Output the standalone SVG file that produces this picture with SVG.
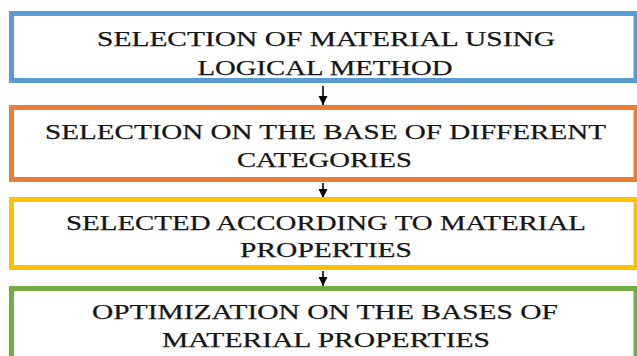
<svg xmlns="http://www.w3.org/2000/svg" width="637" height="356" viewBox="0 0 637 356">
  <style>
    .box { fill: #ffffff; stroke-width: 5; }
    .lbl { font-family: "Liberation Serif", "DejaVu Serif", serif; font-size: 22px; fill: #141414; stroke: #141414; stroke-width: 0.25; text-anchor: middle; }
    .link { stroke: #000000; stroke-width: 1.6; fill: none; }
  </style>
  <defs>
    <marker id="head" viewBox="0 0 10 10" refX="10" refY="5" markerWidth="9" markerHeight="12" markerUnits="userSpaceOnUse" orient="auto">
      <path d="M0,0 L10,5 L0,10 Z" fill="#000000"/>
    </marker>
  </defs>
  <rect width="637" height="356" fill="#ffffff"/>

  <g id="connectors">
    <line class="link" x1="323" y1="86" x2="323" y2="105" marker-end="url(#head)"/>
    <line class="link" x1="323" y1="183" x2="323" y2="198" marker-end="url(#head)"/>
    <line class="link" x1="323" y1="271" x2="323" y2="286" marker-end="url(#head)"/>
  </g>

  <g id="step-logical">
    <rect class="box" x="11.5" y="13.5" width="624.5" height="67" stroke="#5B9BD5"/>
    <text class="lbl" x="326" y="46" textLength="458" lengthAdjust="spacingAndGlyphs">SELECTION OF MATERIAL USING</text>
    <text class="lbl" x="325" y="75" textLength="255" lengthAdjust="spacingAndGlyphs">LOGICAL METHOD</text>
  </g>

  <g id="step-categories">
    <rect class="box" x="11.5" y="107.5" width="624.5" height="72" stroke="#ED7D31"/>
    <text class="lbl" x="325.5" y="139" textLength="561" lengthAdjust="spacingAndGlyphs">SELECTION ON THE BASE OF DIFFERENT</text>
    <text class="lbl" x="324.5" y="167" textLength="175" lengthAdjust="spacingAndGlyphs">CATEGORIES</text>
  </g>

  <g id="step-properties">
    <rect class="box" x="11.5" y="199.5" width="624.5" height="68" stroke="#FFC000"/>
    <text class="lbl" x="326" y="230" textLength="520" lengthAdjust="spacingAndGlyphs">SELECTED ACCORDING TO MATERIAL</text>
    <text class="lbl" x="326" y="257" textLength="172" lengthAdjust="spacingAndGlyphs">PROPERTIES</text>
  </g>

  <g id="step-optimization">
    <rect class="box" x="11.5" y="288.5" width="624.5" height="80" stroke="#70AD47"/>
    <text class="lbl" x="325" y="319" textLength="466" lengthAdjust="spacingAndGlyphs">OPTIMIZATION ON THE BASES OF</text>
    <text class="lbl" x="326" y="347" textLength="328" lengthAdjust="spacingAndGlyphs">MATERIAL PROPERTIES</text>
  </g>
</svg>
